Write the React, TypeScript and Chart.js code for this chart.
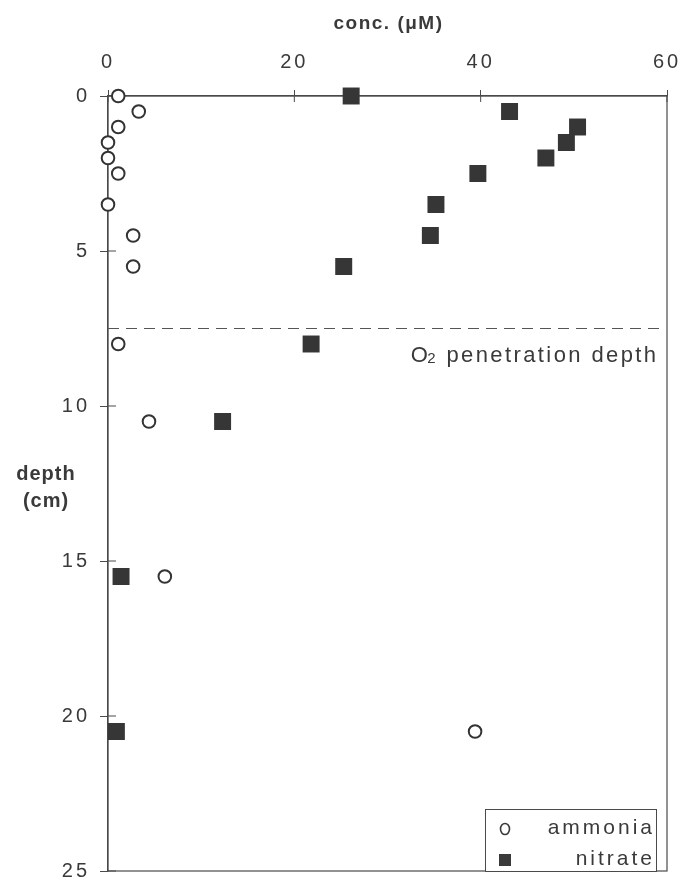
import React, { useEffect, useRef } from "react";
import { Chart, registerables } from "chart.js";

Chart.register(...registerables);

// ---- data ----
const ammoniaConc = [1.1, 3.3, 1.1, 0, 0, 1.1, 0, 2.7, 2.7, 1.1, 4.4, 6.1, 39.4];
const ammoniaDepth = [0, 0.5, 1.0, 1.5, 2.0, 2.5, 3.5, 4.5, 5.5, 8.0, 10.5, 15.5, 20.5];
const nitrateConc = [26.1, 43.1, 50.4, 49.2, 47.0, 39.7, 35.2, 34.6, 25.3, 21.8, 12.3, 1.4, 0.9];
const nitrateDepth = [0, 0.5, 1.0, 1.5, 2.0, 2.5, 3.5, 4.5, 5.5, 8.0, 10.5, 15.5, 20.5];
const o2Depth = 7.5;
const o2LineEnd = 59.3;
const xTicks = [0, 20, 40, 60];
const yTicks = [0, 5, 10, 15, 20, 25];
const xTitle = "conc. (\u03BCM)";
const yTitleLines = ["depth", "(cm)"];
const legendLabels = ["ammonia", "nitrate"];
const o2Label = ["O", "2", " penetration depth"];

const FONT = "'Liberation Sans', Arial, Helvetica, sans-serif";
const INK = "#3a3a3a";
const LINE = "#4a4a4a";

const zeroPad = (s: any) => {
  s.paddingLeft = 0;
  s.paddingRight = 0;
  s.paddingTop = 0;
  s.paddingBottom = 0;
};

const overlayPlugin = {
  id: "overlay",
  beforeDraw(chart: any) {
    const ctx = chart.ctx;
    ctx.save();
    ctx.fillStyle = "#ffffff";
    ctx.fillRect(0, 0, chart.width, chart.height);
    ctx.restore();
    ctx.letterSpacing = "3px";
  },
  beforeDatasetsDraw(chart: any) {
    const ctx = chart.ctx;
    const a = chart.chartArea;
    const xs = chart.scales.x;
    const ys = chart.scales.y;
    ctx.save();
    ctx.strokeStyle = LINE;
    ctx.lineWidth = 1.2;
    ctx.strokeRect(a.left, a.top, a.right - a.left, a.bottom - a.top);
    ctx.lineWidth = 1;
    ctx.beginPath();
    xTicks.forEach((v) => {
      const px = xs.getPixelForValue(v);
      ctx.moveTo(px, a.top);
      ctx.lineTo(px, a.top + 6);
    });
    yTicks.forEach((v) => {
      const py = ys.getPixelForValue(v);
      ctx.moveTo(a.left, py);
      ctx.lineTo(a.left + 8, py);
    });
    ctx.stroke();
    ctx.restore();
  },
  afterDatasetsDraw(chart: any) {
    const ctx = chart.ctx;
    const a = chart.chartArea;
    const xs = chart.scales.x;
    const ys = chart.scales.y;
    ctx.save();
    ctx.fillStyle = INK;

    // x-axis title
    ctx.font = `bold 19px ${FONT}`;
    ctx.letterSpacing = "1.5px";
    ctx.textAlign = "center";
    ctx.textBaseline = "middle";
    ctx.fillText(xTitle, (a.left + a.right) / 2 + 1, 24);

    // y-axis title (horizontal, two lines)
    ctx.font = `bold 20px ${FONT}`;
    ctx.letterSpacing = "1px";
    const midY = (a.top + a.bottom) / 2;
    ctx.fillText(yTitleLines[0], a.left - 62, midY - 9);
    ctx.fillText(yTitleLines[1], a.left - 62, midY + 18);

    // O2 penetration depth label
    ctx.letterSpacing = "2.4px";
    ctx.textAlign = "left";
    ctx.textBaseline = "alphabetic";
    const big = `22px ${FONT}`;
    const small = `15px ${FONT}`;
    ctx.font = big;
    const w0 = ctx.measureText(o2Label[0]).width;
    const w2 = ctx.measureText(o2Label[2]).width;
    ctx.font = small;
    const w1 = ctx.measureText(o2Label[1]).width;
    const rightX = xs.getPixelForValue(o2LineEnd) - 1;
    const base = ys.getPixelForValue(o2Depth) + 33;
    let x = rightX - (w0 + w1 + w2) + 2;
    ctx.font = big;
    ctx.fillText(o2Label[0], x, base);
    x += w0 - 3;
    ctx.font = small;
    ctx.fillText(o2Label[1], x, base + 1);
    x += w1;
    ctx.font = big;
    ctx.fillText(o2Label[2], x, base);

    // legend box
    const lr = a.right - 11;
    const lw = 171;
    const lh = 62;
    const lt = a.bottom - lh;
    const ll = lr - lw;
    ctx.fillStyle = "#ffffff";
    ctx.fillRect(ll, lt, lw, lh);
    ctx.strokeStyle = LINE;
    ctx.lineWidth = 1;
    ctx.strokeRect(ll + 0.5, lt + 0.5, lw, lh);
    ctx.fillStyle = INK;
    ctx.font = `21px ${FONT}`;
    ctx.letterSpacing = "3px";
    ctx.textAlign = "right";
    ctx.textBaseline = "middle";
    ctx.fillText(legendLabels[0], lr - 1, lt + 19);
    ctx.fillText(legendLabels[1], lr - 1, lt + 50);
    // symbols
    ctx.strokeStyle = INK;
    ctx.lineWidth = 1.6;
    ctx.beginPath();
    ctx.ellipse(ll + 20, lt + 20, 4.5, 5.5, 0, 0, Math.PI * 2);
    ctx.stroke();
    ctx.fillStyle = "#3a3a3a";
    ctx.fillRect(ll + 14, lt + 45, 12, 12);
    ctx.restore();
  },
};

export default function App() {
  const ref = useRef<HTMLCanvasElement | null>(null);
  useEffect(() => {
    if (!ref.current) return;
    const chart = new Chart(ref.current, {
      type: "scatter",
      data: {
        datasets: [
          {
            label: "O2",
            type: "line",
            data: [
              { x: 0, y: o2Depth },
              { x: o2LineEnd, y: o2Depth },
            ],
            borderColor: "#555555",
            borderWidth: 1,
            borderDash: [11, 7],
            pointRadius: 0,
            showLine: true,
            fill: false,
          } as any,
          {
            label: legendLabels[0],
            data: ammoniaConc.map((c, i) => ({ x: c, y: ammoniaDepth[i] })),
            pointStyle: "circle",
            pointRadius: 6.3,
            pointBorderWidth: 2,
            pointBorderColor: "#333333",
            pointBackgroundColor: "#ffffff",
            clip: false,
          } as any,
          {
            label: legendLabels[1],
            data: nitrateConc.map((c, i) => ({ x: c, y: nitrateDepth[i] })),
            pointStyle: "rect",
            pointRadius: 12,
            pointBorderWidth: 0,
            pointBackgroundColor: "#363636",
            clip: false,
          } as any,
        ],
      },
      options: {
        animation: false,
        responsive: true,
        maintainAspectRatio: false,
        layout: { padding: { left: 0, top: 0, right: 16, bottom: 11 } },
        plugins: { legend: { display: false }, tooltip: { enabled: false } },
        scales: {
          x: {
            type: "linear",
            position: "top",
            min: 0,
            max: 60,
            afterBuildTicks: (s: any) => {
              s.ticks = xTicks.map((v) => ({ value: v }));
            },
            afterFit: (s: any) => {
              s.height = 96;
              zeroPad(s);
            },
            ticks: {
              color: INK,
              font: { family: FONT, size: 20 },
              padding: 16,
              maxRotation: 0,
            },
            grid: {
              display: true,
              drawOnChartArea: false,
              drawTicks: true,
              tickLength: 6,
              tickColor: LINE,
            },
            border: { display: true, color: LINE, width: 1.2 },
            title: { display: false },
          },
          y: {
            type: "linear",
            reverse: true,
            min: 0,
            max: 25,
            afterBuildTicks: (s: any) => {
              s.ticks = yTicks.map((v) => ({ value: v }));
            },
            afterFit: (s: any) => {
              s.width = 108;
              zeroPad(s);
            },
            ticks: {
              color: INK,
              font: { family: FONT, size: 20 },
              padding: 10,
            },
            grid: {
              display: true,
              drawOnChartArea: false,
              drawTicks: true,
              tickLength: 8,
              tickColor: LINE,
            },
            border: { display: true, color: LINE, width: 1.2 },
          },
        },
      } as any,
      plugins: [overlayPlugin],
    });
    return () => chart.destroy();
  }, []);
  return (
    <div style={{ position: "absolute", left: 0, top: 0, width: 683, height: 883, background: "#fff" }}>
      <canvas ref={ref} />
    </div>
  );
}
